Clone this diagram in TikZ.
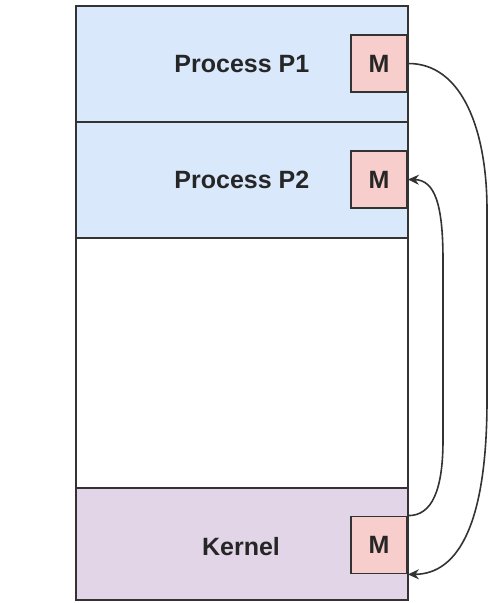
\documentclass[tikz,border=0pt]{standalone}
\usepackage{fontspec}
\setmainfont{Liberation Sans}
\usetikzlibrary{arrows.meta}
\definecolor{strokec}{HTML}{333333}
\definecolor{procblue}{HTML}{DAE8FC}
\definecolor{kernpurple}{HTML}{E1D5E7}
\definecolor{mred}{HTML}{F8CECC}
\tikzset{
  region/.style={draw=strokec, line width=1.8pt, anchor=north west, inner sep=0pt,
    minimum width=332pt, font=\bfseries\fontsize{25}{29}\selectfont, text=black!85},
  mbox/.style={draw=strokec, line width=1.8pt, fill=mred, inner sep=0pt,
    minimum width=56pt, minimum height=57pt, font=\bfseries\fontsize{25}{29}\selectfont, text=black!85},
  link/.style={draw=strokec, line width=1.6pt, -{Stealth[length=11pt,width=10pt]}}
}
\begin{document}
\begin{tikzpicture}[x=1pt,y=-1pt]
\useasboundingbox (0,0) rectangle (489,603);
\node[region, fill=procblue, minimum height=116pt] (p1) at (75,5) {Process P1};
\node[region, fill=procblue, minimum height=116pt] (p2) at (75,121) {Process P2};
\node[region, fill=white, minimum height=250pt] (free) at (75,237) {};
\node[region, fill=kernpurple, minimum height=112pt] (kern) at (75,487) {};
\node[font=\bfseries\fontsize{25}{29}\selectfont, text=black!85] (kl) at (241,547) {Kernel};
\node[mbox] (m1) at (379,63.5) {M};
\node[mbox] (m2) at (379,179.5) {M};
\node[mbox] (mk) at (379,545) {M};
\draw[link] (m1.east) .. controls (462,63) and (487,130) .. (487,210)
  -- (487,400) .. controls (487,520) and (460,574) .. (mk.south east);
\draw[link] (mk.north east) .. controls (432,516) and (443,490) .. (443,440)
  -- (443,260) .. controls (443,205) and (435,180) .. (m2.east);
\end{tikzpicture}
\end{document}
